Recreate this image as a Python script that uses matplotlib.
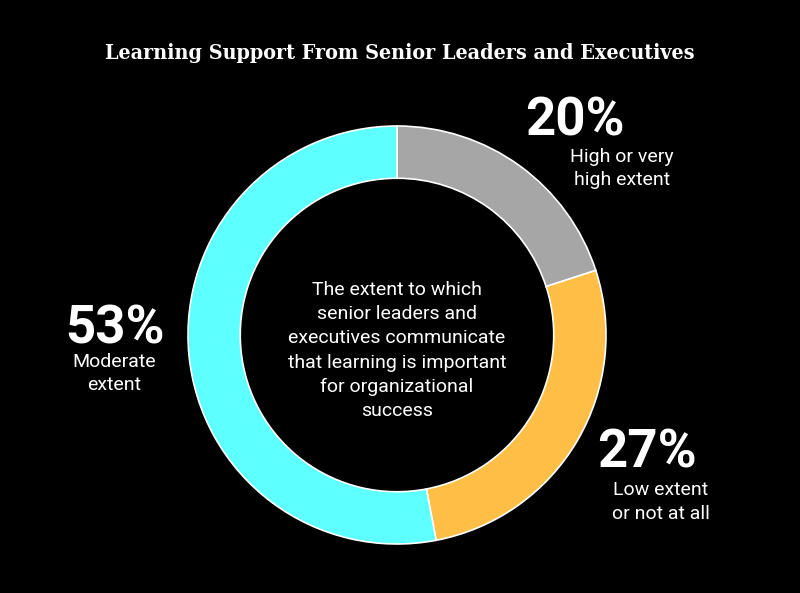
import matplotlib
matplotlib.use('Agg')
import matplotlib.pyplot as plt

# ---- data ----
values = [20, 27, 53]
pct_labels = ["20%", "27%", "53%"]
sub_labels = [["High or very", "high extent"],
              ["Low extent", "or not at all"],
              ["Moderate", "extent"]]
colors = ["#A6A6A6", "#FFBF47", "#5EFFFF"]
title = "Learning Support From Senior Leaders and Executives"
center_lines = ["The extent to which", "senior leaders and",
                "executives communicate", "that learning is important",
                "for organizational", "success"]

W, H = 800, 593
fig = plt.figure(figsize=(W / 100, H / 100), dpi=100, facecolor='black')


def fx(x):
    return x / W


def fy(y):
    return 1 - y / H


cx, cy, R = 397, 335, 209
ax = fig.add_axes([(cx - R) / W, (H - cy - R) / H, 2 * R / W, 2 * R / H])
ax.set_facecolor('black')
ax.pie(values, colors=colors, startangle=90, counterclock=False, radius=1,
       wedgeprops=dict(width=0.25, edgecolor='white', linewidth=1.2))
ax.set_xlim(-1, 1)
ax.set_ylim(-1, 1)
ax.set_aspect('equal')
ax.axis('off')

# title, fitted to the reference width
t = fig.text(fx(400), fy(59), title, ha='center', va='baseline', color='white',
             fontsize=16, fontfamily='DejaVu Serif', fontweight='bold',
             fontstretch='condensed')
fig.canvas.draw()
bb = t.get_window_extent(fig.canvas.get_renderer())
t.set_fontsize(16 * 593 / bb.width)

# percentage labels
pct_pos = [(575, 135), (647, 468), (114.5, 343)]
sub_pos = [(622, [162, 185]), (661, [495, 519]), (114.5, [367, 390])]
for lab, (x, y) in zip(pct_labels, pct_pos):
    fig.text(fx(x), fy(y), lab, ha='center', va='baseline', color='white',
             fontsize=38, fontfamily='Roboto', fontweight='bold')
for lines, (x, ys) in zip(sub_labels, sub_pos):
    for line, y in zip(lines, ys):
        fig.text(fx(x), fy(y), line, ha='center', va='baseline', color='white',
                 fontsize=14, fontfamily='Roboto')

# center text
y0, step = 295, 24.2
for i, line in enumerate(center_lines):
    fig.text(fx(397), fy(y0 + i * step), line, ha='center', va='baseline',
             color='white', fontsize=14, fontfamily='Roboto')

fig.savefig('out.png', dpi=100, facecolor='black')
